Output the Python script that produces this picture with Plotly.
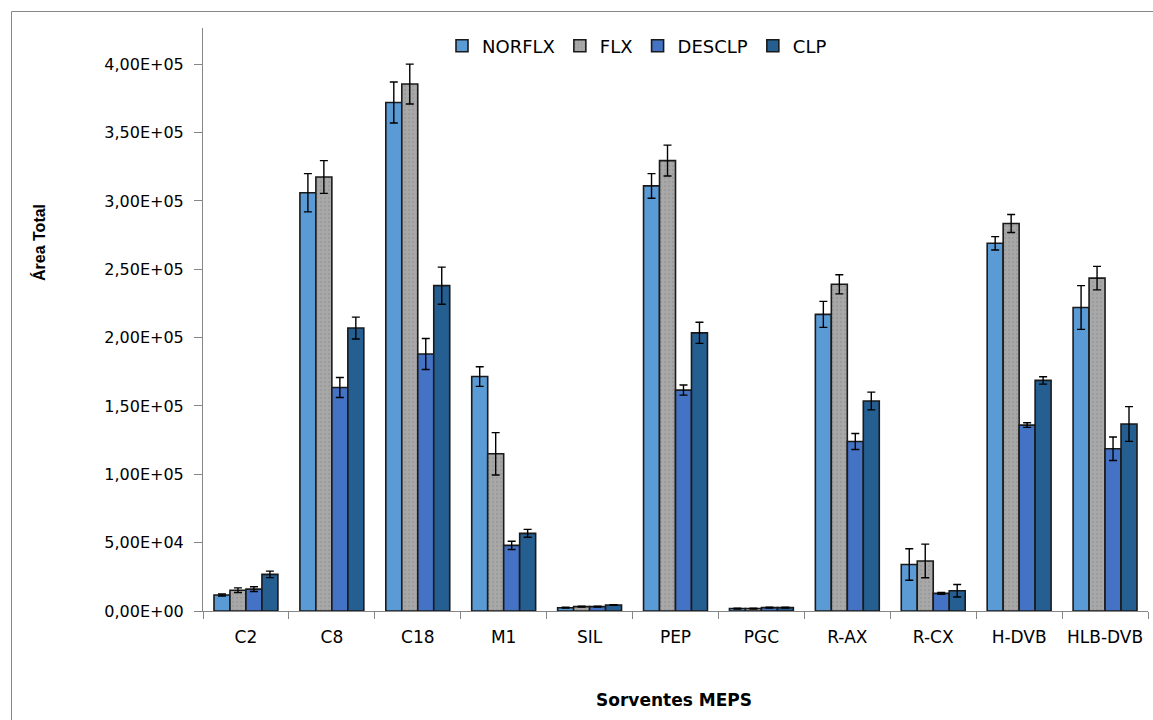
import plotly.graph_objects as go

# Sorbents tested and total peak area per analyte (mean ± standard deviation)
categories = ["C2", "C8", "C18", "M1", "SIL", "PEP", "PGC", "R-AX", "R-CX", "H-DVB", "HLB-DVB"]

norflx = [11700, 306000, 372000, 171500, 2400, 311000, 1800, 217000, 34000, 269000, 222000]
norflx_sd = [700, 14000, 15000, 7200, 300, 9000, 300, 9500, 11500, 4900, 16000]

flx = [15200, 317500, 385500, 115000, 3200, 329500, 1800, 239000, 36600, 283500, 243500]
flx_sd = [1700, 12000, 14600, 15500, 300, 11300, 300, 7000, 12300, 6600, 8600]

desclp = [16000, 163500, 188000, 48000, 3200, 161600, 2500, 124000, 12900, 136000, 118700]
desclp_sd = [1700, 7300, 11300, 3000, 300, 3700, 300, 5800, 600, 1700, 8600]

clp = [26800, 207000, 238000, 56800, 4400, 203500, 2500, 153600, 14800, 168700, 136800]
clp_sd = [2400, 8000, 13600, 2900, 300, 7700, 300, 6500, 4600, 2700, 12700]

y_ticks = [0, 50000, 100000, 150000, 200000, 250000, 300000, 350000, 400000]
y_tick_text = ["0,00E+00", "5,00E+04", "1,00E+05", "1,50E+05", "2,00E+05",
               "2,50E+05", "3,00E+05", "3,50E+05", "4,00E+05"]

series = [
    ("NORFLX", norflx, norflx_sd, "#5B9BD5", None),
    ("FLX", flx, flx_sd, "#A5A5A5", dict(shape=".", size=4, solidity=0.25,
                                         fgcolor="#8E8E8E", bgcolor="#A8A8A8")),
    ("DESCLP", desclp, desclp_sd, "#4472C4", None),
    ("CLP", clp, clp_sd, "#255E91", None),
]

fig = go.Figure()
for name, vals, sd, color, pattern in series:
    marker = dict(color=color, line=dict(color="#1A1A1A", width=1.6))
    if pattern:
        marker["pattern"] = pattern
    fig.add_trace(go.Bar(
        name=name, x=categories, y=vals, marker=marker,
        error_y=dict(type="data", array=sd, visible=True,
                     color="#000000", thickness=1.4, width=4),
    ))

# Plot-area geometry in pixels, used to place the free-standing labels
L, R, T, B = 203, 1148, 28, 611
W, H = R - L, B - T


def px(x):
    return (x - L) / W


def py(y):
    return (B - y) / H


font_main = "DejaVu Sans"

fig.update_layout(
    width=1153, height=720,
    margin=dict(l=L, r=1153 - R, t=T, b=720 - B),
    paper_bgcolor="white", plot_bgcolor="white",
    barmode="group", bargap=0.256, bargroupgap=0,
    font=dict(family=font_main, size=17, color="#000000"),
    showlegend=True,
    legend=dict(orientation="h", x=px(442), y=py(46), xanchor="left", yanchor="middle",
                font=dict(family=font_main, size=18, color="#000000"),
                itemwidth=30, tracegroupgap=0, bgcolor="rgba(0,0,0,0)"),
    xaxis=dict(
        showline=True, linecolor="#868686", linewidth=1,
        ticks="outside", tickson="boundaries", ticklen=7, tickcolor="#868686",
        ticklabelstandoff=11, tickangle=0, automargin=False,
        tickfont=dict(family=font_main, size=17, color="#000000"),
        showgrid=False, zeroline=False,
    ),
    yaxis=dict(
        range=[0, 426500],
        tickvals=y_ticks, ticktext=y_tick_text,
        showline=True, linecolor="#868686", linewidth=1,
        ticks="outside", ticklen=8, tickcolor="#868686",
        ticklabelstandoff=7, automargin=False,
        tickfont=dict(family=font_main, size=16, color="#000000"),
        showgrid=False, zeroline=False,
    ),
    annotations=[
        dict(text="<b>Área Total</b>", xref="paper", yref="paper",
             x=px(39), y=py(243), textangle=-90, showarrow=False,
             xanchor="center", yanchor="middle",
             font=dict(family="Liberation Sans", size=16, color="#000000")),
        dict(text="<b>Sorventes MEPS</b>", xref="paper", yref="paper",
             x=px(674), y=py(700), showarrow=False,
             xanchor="center", yanchor="middle",
             font=dict(family=font_main, size=17, color="#000000")),
    ],
    shapes=[
        dict(type="rect", xref="paper", yref="paper",
             x0=px(11.5), x1=px(1162), y0=py(730), y1=py(11.5),
             line=dict(color="#878787", width=1), fillcolor="rgba(0,0,0,0)", layer="below"),
    ],
)

fig.write_html("out.html")
